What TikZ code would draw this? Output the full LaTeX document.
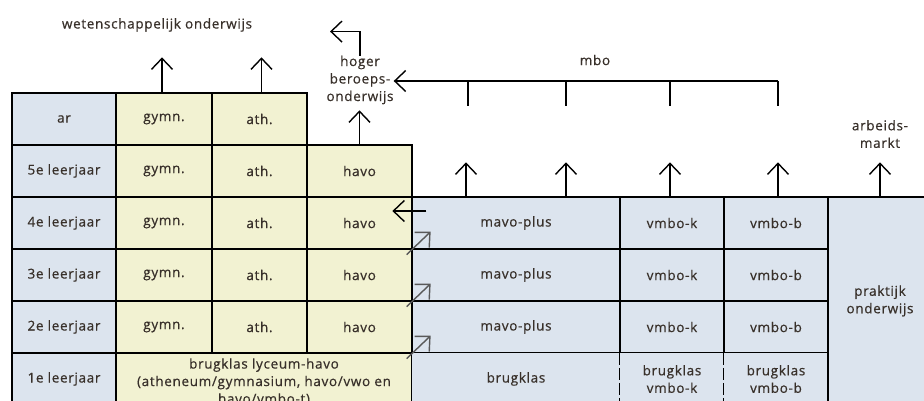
\documentclass[tikz,border=0pt]{standalone}
\usepackage{fontspec}
\setmainfont[LetterSpace=5,FakeBold=0.6]{Open Sans}
\usetikzlibrary{arrows.meta}
\definecolor{blauw}{HTML}{DCE4EE}
\definecolor{geel}{HTML}{F2F2D2}
\definecolor{tekst}{HTML}{38302A}

\begin{document}
\begin{tikzpicture}
  [x=1pt,y=-1pt,
   every node/.style={font=\fontsize{13.5}{17.5}\selectfont,text=tekst,align=center,inner sep=0pt},
   cel/.style={draw,line width=1.3pt,minimum height=52pt},
   lijn/.style={line width=1.4pt},
   pijl/.style={lijn,-{Straight Barb[length=11pt,width=21pt,line width=1.4pt]}},
   schuin/.style={pijl,draw=gray!70!black}]
  \useasboundingbox (0,0) rectangle (924,401);
  \clip (0,0) rectangle (924,401);

  % leerjaren
  \foreach \n/\y/\t in {6/119/ar,5/171/5e leerjaar,4/223/4e leerjaar,3/275/3e leerjaar,2/327/2e leerjaar,1/379/1e leerjaar}
    \node[cel,fill=blauw,minimum width=104pt] (jaar\n) at (64,\y) {\t};

  % vwo en havo
  \foreach \n/\y in {6/119,5/171,4/223,3/275,2/327} {
    \node[cel,fill=geel,minimum width=96pt] (gymn\n) at (164,\y) {gymn.};
    \node[cel,fill=geel,minimum width=95pt] (ath\n) at (259.5,\y) {ath.};
  }
  \foreach \n/\y in {5/171,4/223,3/275,2/327}
    \node[cel,fill=geel,minimum width=105pt] (havo\n) at (359.5,\y) {havo};
  \node[cel,fill=geel,minimum width=296pt] (lyceum) at (264,379) {};
  \node (lyceumtekst) at (264,382) {brugklas lyceum-havo\\(atheneum/gymnasium, havo/vwo en\\havo/vmbo-t)};

  % vmbo
  \foreach \n/\y in {4/223,3/275,2/327} {
    \node[cel,fill=blauw,minimum width=208pt] (mavo\n) at (516,\y) {mavo-plus};
    \node[cel,fill=blauw,minimum width=104pt] (vmbok\n) at (672,\y) {vmbo-k};
    \node[cel,fill=blauw,minimum width=104pt] (vmbob\n) at (776,\y) {vmbo-b};
  }
  \node[fill=blauw,minimum width=208pt,minimum height=52pt] (bk) at (516,379) {brugklas};
  \node[fill=blauw,minimum width=104pt,minimum height=52pt] (bkk) at (672,379) {brugklas\\vmbo-k};
  \node[fill=blauw,minimum width=104pt,minimum height=52pt] (bkb) at (776,379) {brugklas\\vmbo-b};
  \draw[line width=1.3pt] (bk.north west) -- (bkb.north east);
  \draw[line width=1.3pt,dash pattern=on 12pt off 3pt]
    (bkk.north west) -- (bkk.south west) (bkb.north west) -- (bkb.south west);
  \node[cel,fill=blauw,minimum width=104pt,minimum height=208pt] (praktijk) at (880,301) {praktijk\\onderwijs};

  % vervolg
  \node (wo) at (157,25) {wetenschappelijk onderwijs};
  \node (hbo) at (360,80) {hoger\\beroeps-\\onderwijs};
  \node (mbo) at (595,60) {mbo};
  \node (markt) at (880,134) {arbeids-\\markt};

  \draw[pijl] ([xshift=-2pt]gymn6.north) -- ++(0,-35);
  \draw[pijl] ([xshift=2pt]ath6.north) -- ++(0,-35);
  \draw[pijl] (havo5.north) -- ++(0,-34);
  \draw[pijl] (hbo.north) |- ++(-30,-24);
  \draw[pijl] ([shift={(15,-12)}]mavo4.west) -- ++(-34,0);
  \foreach \r in {4,3,2}
    \draw[schuin] ([shift={(-6,5)}]havo\r.south east) -- ++(24,-23);

  \foreach \s/\c in {-50/mavo4,50/mavo4,-2/vmbok4,2/vmbob4,0/praktijk}
    \draw[pijl] ([xshift=\s pt]\c.north) -- ++(0,-34);

  \coordinate (mbobalk) at (778,81);
  \draw[pijl] (mbobalk) -- (hbo.east |- mbobalk);
  \foreach \x in {468,566,670,778}
    \draw[lijn] (\x,81) -- (\x,106);
\end{tikzpicture}
\end{document}
